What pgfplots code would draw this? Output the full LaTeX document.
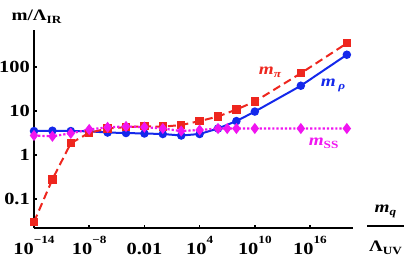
\documentclass[border=0pt]{standalone}
\usepackage{fontspec}
\setmainfont{Liberation Serif}[FakeStretch=1.2]
\usepackage{pgfplots}
\pgfplotsset{compat=1.18}
\definecolor{cred}{RGB}{238,38,30}
\definecolor{cblue}{RGB}{20,40,235}
\definecolor{cmag}{RGB}{240,20,240}
\newcommand{\sps}[1]{\raisebox{10.5pt}{\fontsize{11}{11}\selectfont #1}}
\newcommand{\sbs}[1]{\raisebox{-3pt}{\fontsize{11}{11}\selectfont #1}}
\begin{document}
\begin{tikzpicture}
\useasboundingbox (-34pt,-34pt) rectangle (373pt,228pt);
\begin{axis}[
  at={(0pt,0pt)}, anchor=south west,
  scale only axis, width=319pt, height=198pt,
  xmode=log, ymode=log,
  xmin=1e-14, xmax=4.68e20, ymin=0.02193, ymax=693,
  axis lines=left, axis line style={-, line width=1.9pt},
  tick align=inside, major tick length=3pt, tick style={black, line width=1.5pt},
  xminorticks=false, yminorticks=false,
  xtick={1e-14,1e-8,1e-2,1e4,1e10,1e16},
  xticklabels={10\sps{−14},10\sps{−8},0.01,10\sps{4},10\sps{10},10\sps{16}},
  ytick={0.1,1,10,100}, yticklabels={0.1,1,10,100},
  ticklabel style={font=\fontsize{17}{17}\selectfont\bfseries},
  xticklabel style={anchor=base, yshift=-26pt},
  yticklabel style={anchor=east, inner sep=0pt, xshift=-4pt},
  clip=false,
]
\addplot[cblue, line width=2pt, mark=*, mark size=3.2pt, mark options={solid}] coordinates {
(1e-14,3.5)(1e-12,3.56)(1e-10,3.5)(1e-8,3.45)(1e-6,3.24)(1e-4,3.16)(1e-2,3.08)(1,3.0)(1e2,2.77)(1e4,3.0)(1e6,4.0)(1e8,5.9)(1e10,9.7)(1e15,37.5)(1e20,190)
};
\addplot[cred, line width=2pt, dash pattern=on 8pt off 4.5pt, mark=square*, mark size=3.2pt, mark options={solid}] coordinates {
(1e-14,0.030)(1e-12,0.28)(1e-10,1.85)(1e-8,3.2)(1e-6,4.0)(1e-4,4.3)(1e-2,4.5)(1,4.4)(1e2,4.8)(1e4,5.9)(1e6,7.5)(1e8,10.8)(1e10,16.4)(1e15,72)(1e20,346)
};
\addplot[cmag, line width=2.2pt, dash pattern=on 2.2pt off 2pt, mark=diamond*, mark size=3.8pt, mark options={solid}] coordinates {
(1e-14,2.77)(1e-12,2.66)(1e-10,3.11)(1e-8,3.8)(1e-6,4.26)(1e-4,4.45)(1e-2,4.3)(1,4.0)(1e2,3.5)(1e4,3.7)(1e6,4.0)(1e7,4.0)(1e8,4.0)(1e10,4.0)(1e15,4.0)(1e20,4.0)
};
\node[text=cred, font=\fontsize{16}{16}\selectfont\bfseries\itshape] at (axis cs:4.5e11,77) {m\sbs{π}};
\node[text=cblue, font=\fontsize{16}{16}\selectfont\bfseries\itshape] at (axis cs:3.2e18,38) {m\,\sbs{ρ}};
\node[text=cmag, font=\fontsize{16}{16}\selectfont\bfseries] at (axis cs:2.95e17,1.83) {\textit{m}\sbs{SS}};
\end{axis}
\node[anchor=base west, font=\fontsize{16}{16}\selectfont\bfseries] at (-26pt,207pt) {m/Λ\sbs{IR}};
\draw[line width=1.6pt] (333pt,2pt) -- (370pt,2pt);
\node[anchor=base, font=\fontsize{16}{16}\selectfont\bfseries] at (351.5pt,15pt) {\textit{m}\sbs{\textit{q}}};
\node[anchor=base, font=\fontsize{16}{16}\selectfont\bfseries] at (351.5pt,-24pt) {Λ\sbs{UV}};
\end{tikzpicture}
\end{document}
